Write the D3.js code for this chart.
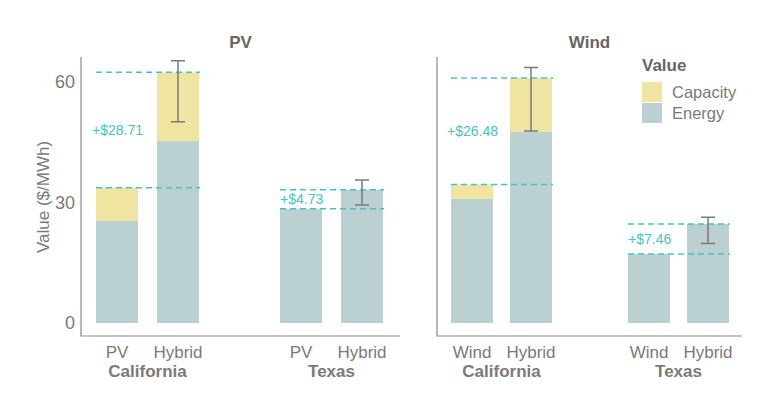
<!DOCTYPE html>
<html>
<head>
<meta charset="utf-8">
<script src="https://cdn.jsdelivr.net/npm/d3@7"></script>
<style>
  body { margin: 0; background: #fff; }
  svg { font-family: "Liberation Sans", Arial, sans-serif; }
</style>
</head>
<body>
<svg width="767" height="395"></svg>
<script>
// data
var panels = ["PV", "Wind"];
var regions = ["California", "Texas"];
var techs = { PV: ["PV", "Hybrid"], Wind: ["Wind", "Hybrid"] };

// [CA base, CA hybrid, TX base, TX hybrid]
var energy = {
  PV: [25.4, 45.3, 28.45, 33.18],
  Wind: [30.9, 47.6, 17.2, 24.66]
};
var capacity = {
  PV: [8.3, 17.1, 0, 0],
  Wind: [3.6, 13.38, 0, 0]
};
var errLow = { PV: [null, 50.1, null, 29.4], Wind: [null, 47.8, null, 19.8] };
var errHigh = { PV: [null, 65.3, null, 35.6], Wind: [null, 63.6, null, 26.3] };
var deltas = { PV: ["+$28.71", "+$4.73"], Wind: ["+$26.48", "+$7.46"] };

var yTicks = [0, 30, 60];
var legendKeys = ["Capacity", "Energy"];

var colCap = "#f0e5a0",
  colEnergy = "#bbd0d0",
  colTeal = "#45c4c2",
  colGrey = "#7a7a7a";

var svg = d3.select("svg");

var y = d3.scaleLinear().domain([0, 60]).range([323, 82]);

var panelX = { PV: [81, 400], Wind: [437, 742] };
var barX = {
  PV: [96, 157, 280, 341],
  Wind: [451, 510, 628, 687]
};
var barW = 42;

// y axis title
svg.append("text")
  .attr("transform", "translate(49,197) rotate(-90)")
  .attr("text-anchor", "middle")
  .attr("font-size", 17)
  .attr("fill", colGrey)
  .text("Value ($/MWh)");

panels.forEach(function(p) {
  var g = svg.append("g");
  var x0 = panelX[p][0], x1 = panelX[p][1];

  g.append("text")
    .attr("x", (x0 + x1) / 2)
    .attr("y", 48)
    .attr("text-anchor", "middle")
    .attr("font-size", 17)
    .attr("font-weight", "bold")
    .attr("fill", "#666")
    .text(p);

  // axis lines
  g.append("path")
    .attr("d", "M" + x0 + ",57V336H" + x1)
    .attr("fill", "none")
    .attr("stroke", "#888")
    .attr("stroke-width", 1.2);

  if (p == "PV") {
    g.selectAll(".ytick")
      .data(yTicks)
      .enter()
      .append("text")
      .attr("x", 75)
      .attr("y", function(d) { return y(d); })
      .attr("dy", "0.35em")
      .attr("text-anchor", "end")
      .attr("font-size", 18)
      .attr("fill", colGrey)
      .text(function(d) { return d; });
  }

  // bars
  energy[p].forEach(function(e, i) {
    var c = capacity[p][i];
    g.append("rect")
      .attr("x", barX[p][i])
      .attr("width", barW)
      .attr("y", y(e))
      .attr("height", y(0) - y(e))
      .attr("fill", colEnergy);
    if (c > 0) {
      g.append("rect")
        .attr("x", barX[p][i])
        .attr("width", barW)
        .attr("y", y(e + c))
        .attr("height", y(e) - y(e + c))
        .attr("fill", colCap);
    }
  });

  // dashed lines and delta labels
  [0, 1].forEach(function(r) {
    var a = r * 2, b = r * 2 + 1;
    var lo = energy[p][a] + capacity[p][a];
    var hi = energy[p][b] + capacity[p][b];
    [lo, hi].forEach(function(v) {
      g.append("line")
        .attr("x1", barX[p][a])
        .attr("x2", barX[p][b] + barW + 1)
        .attr("y1", y(v))
        .attr("y2", y(v))
        .attr("stroke", colTeal)
        .attr("stroke-width", 1.5)
        .attr("stroke-dasharray", "6,4");
    });
    g.append("text")
      .attr("x", barX[p][a] - (r == 0 ? 4 : 0))
      .attr("y", (y(lo) + y(hi)) / 2)
      .attr("dy", "0.35em")
      .attr("font-size", 14)
      .attr("fill", colTeal)
      .text(deltas[p][r]);

    // error bar on hybrid
    var ex = barX[p][b] + barW / 2;
    g.append("path")
      .attr("d", "M" + (ex - 7) + "," + y(errHigh[p][b]) + "H" + (ex + 7) +
        "M" + ex + "," + y(errHigh[p][b]) + "V" + y(errLow[p][b]) +
        "M" + (ex - 7) + "," + y(errLow[p][b]) + "H" + (ex + 7))
      .attr("fill", "none")
      .attr("stroke", colGrey)
      .attr("stroke-width", 1.5);

    // x labels
    [a, b].forEach(function(i, k) {
      g.append("text")
        .attr("x", barX[p][i] + barW / 2)
        .attr("y", 358)
        .attr("text-anchor", "middle")
        .attr("font-size", 17)
        .attr("fill", colGrey)
        .text(techs[p][k]);
    });
    g.append("text")
      .attr("x", (barX[p][a] + barX[p][b] + barW) / 2)
      .attr("y", 377)
      .attr("text-anchor", "middle")
      .attr("font-size", 17)
      .attr("font-weight", "bold")
      .attr("fill", colGrey)
      .text(regions[r]);
  });
});

// legend
var lg = svg.append("g").attr("transform", "translate(642,0)");
lg.append("text")
  .attr("x", 0)
  .attr("y", 71)
  .attr("font-size", 17)
  .attr("font-weight", "bold")
  .attr("fill", "#666")
  .text("Value");
legendKeys.forEach(function(k, i) {
  lg.append("rect")
    .attr("x", 0)
    .attr("y", 82 + i * 21)
    .attr("width", 20)
    .attr("height", 20)
    .attr("fill", i == 0 ? colCap : colEnergy);
  lg.append("text")
    .attr("x", 30)
    .attr("y", 92 + i * 21)
    .attr("dy", "0.35em")
    .attr("font-size", 16.5)
    .attr("fill", colGrey)
    .text(k);
});
</script>
</body>
</html>
